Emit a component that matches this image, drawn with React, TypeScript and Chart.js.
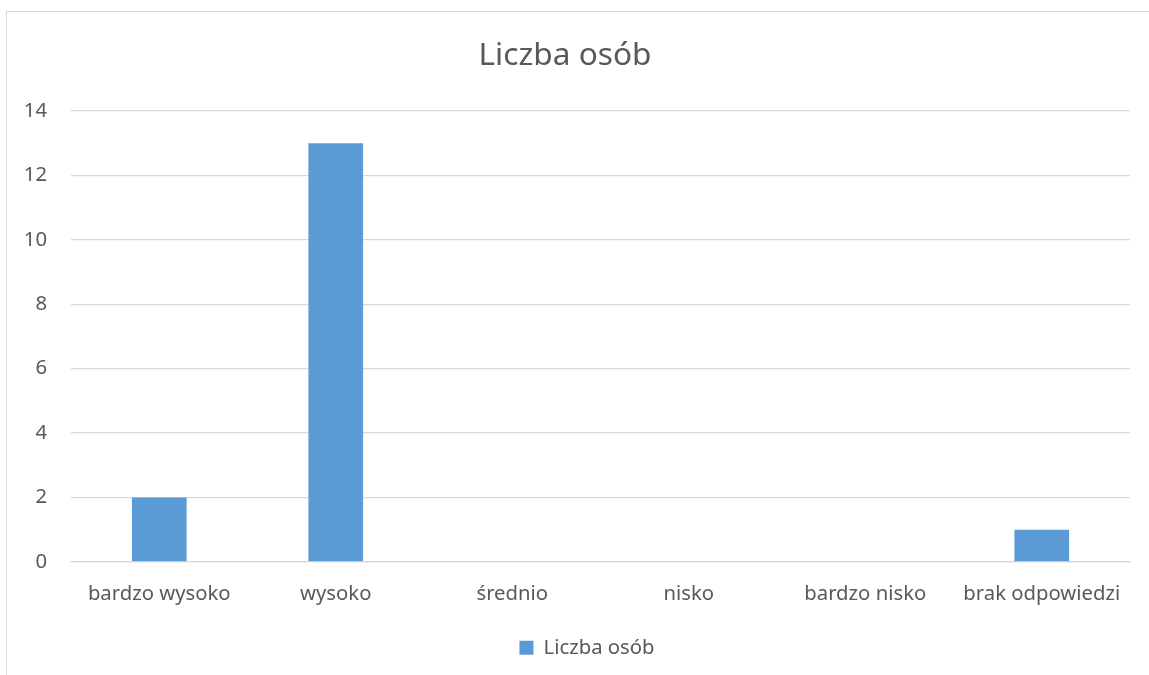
import React, { useEffect, useRef } from "react";
import { Chart, registerables } from "chart.js";

Chart.register(...registerables);

const categories = ["bardzo wysoko", "wysoko", "średnio", "nisko", "bardzo nisko", "brak odpowiedzi"];
const values = [2, 13, 0, 0, 0, 1];
const seriesName = "Liczba osób";
const chartTitle = "Liczba osób";

const FONT = "'Noto Sans', 'Open Sans', sans-serif";
const TEXT = "#595959";

const legendShift = {
  id: "legendShift",
  afterLayout(chart: any) {
    if (chart.legend) {
      chart.legend.left += 22;
      chart.legend.right += 22;
    }
  },
};

export default function App() {
  const ref = useRef<HTMLCanvasElement | null>(null);
  useEffect(() => {
    if (!ref.current) return;
    const chart = new Chart(ref.current, {
      type: "bar",
      data: {
        labels: categories,
        datasets: [
          {
            label: seriesName,
            data: values,
            backgroundColor: "#5b9bd5",
            borderWidth: 0,
            barPercentage: 0.31,
            categoryPercentage: 1,
          },
        ],
      },
      plugins: [legendShift],
      options: {
        responsive: false,
        animation: false,
        devicePixelRatio: 1,
        layout: { padding: { top: 20, left: 0, right: 19, bottom: 7 } },
        plugins: {
          title: {
            display: true,
            text: chartTitle,
            color: TEXT,
            font: { family: FONT, size: 31.6, weight: "normal" },
            padding: { top: 17, bottom: 36.1 },
          },
          legend: {
            position: "bottom",
            labels: {
              color: TEXT,
              font: { family: FONT, size: 20.3 },
              boxWidth: 14,
              boxHeight: 14,
              padding: 10.85,
            },
          },
          tooltip: { enabled: false },
        },
        scales: {
          x: {
            grid: { display: false, drawTicks: false },
            border: { display: true, color: "#d9d9d9", width: 1.3 },
            ticks: { color: TEXT, font: { family: FONT, size: 20.3 }, padding: 19.8, maxRotation: 0 },
            afterFit: (s: any) => {
              s.height = 65;
            },
          },
          y: {
            min: 0,
            max: 14,
            ticks: { stepSize: 2, color: TEXT, font: { family: FONT, size: 20.3 }, padding: 24 },
            grid: { color: "#d9d9d9", lineWidth: 1.3, drawTicks: false },
            border: { display: false },
            afterFit: (s: any) => {
              s.width = 71;
            },
          },
        },
      },
    });
    return () => chart.destroy();
  }, []);
  return (
    <div style={{ position: "absolute", left: 0, top: 0, width: 1149, height: 675, overflow: "hidden", background: "#fff" }}>
      <div
        style={{
          position: "absolute",
          left: 6,
          top: 11,
          width: 1200,
          height: 720,
          border: "1.5px solid #d9d9d9",
        }}
      />
      <canvas ref={ref} width={1149} height={675} style={{ position: "absolute", left: 0, top: 0 }} />
    </div>
  );
}
